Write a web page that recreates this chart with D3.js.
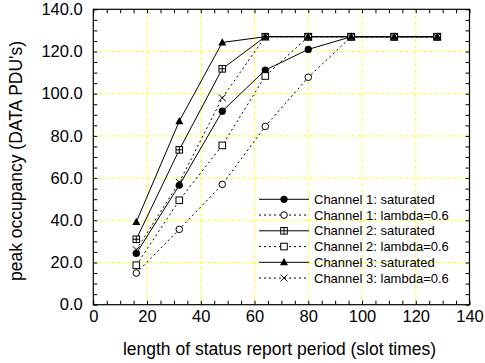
<!DOCTYPE html>
<html><head><meta charset="utf-8">
<script src="https://cdn.jsdelivr.net/npm/d3@7"></script>
<style>
body{margin:0;background:#fff;}
text{font-family:"Liberation Sans",Arial,sans-serif;fill:#000;}
</style></head>
<body><svg id="c" width="485" height="363"></svg>
<script>
const xValues = [16, 32, 48, 64, 80, 96, 112, 128];
const ch1Saturated = [24.3, 56.6, 91.7, 111.2, 121.0, 127, 127, 127];
const ch1Lambda    = [15.0, 35.7, 57.0, 84.5, 107.8, 127, 127, 127];
const ch2Saturated = [31.0, 73.4, 111.8, 127, 127, 127, 127, 127];
const ch2Lambda    = [18.7, 49.5, 75.5, 108.4, 127, 127, 127, 127];
const ch3Saturated = [39.2, 87.0, 124.3, 127, 127, 127, 127, 127];
const ch3Lambda    = [26.0, 58.0, 98.0, 127, 127, 127, 127, 127];
const seriesNames = ["Channel 1: saturated","Channel 1: lambda=0.6","Channel 2: saturated","Channel 2: lambda=0.6","Channel 3: saturated","Channel 3: lambda=0.6"];
const xTicks = [0,20,40,60,80,100,120,140];
const yTicks = [0,20,40,60,80,100,120,140];
const xTitle = "length of status report period (slot times)";
const yTitle = "peak occupancy (DATA PDU's)";

const series = [
  {name:seriesNames[0], vals:ch1Saturated, dash:null, marker:"fcircle"},
  {name:seriesNames[1], vals:ch1Lambda, dash:"2,3", marker:"ocircle"},
  {name:seriesNames[2], vals:ch2Saturated, dash:null, marker:"gsquare"},
  {name:seriesNames[3], vals:ch2Lambda, dash:"2,3", marker:"osquare"},
  {name:seriesNames[4], vals:ch3Saturated, dash:null, marker:"triangle"},
  {name:seriesNames[5], vals:ch3Lambda, dash:"2,3", marker:"cross"}
];

const svg = d3.select("#c");
const L=93.3, R=469.5, T=9.3, B=304.7;
const x = d3.scaleLinear().domain([0,140]).range([L,R]);
const y = d3.scaleLinear().domain([0,140]).range([B,T]);

// grid
const g = svg.append("g");
g.selectAll(".gx").data(xTicks.filter(d=>d>0&&d<140)).enter().append("line")
  .attr("x1",d=>x(d)).attr("x2",d=>x(d)).attr("y1",T).attr("y2",B)
  .attr("stroke","#ffff00").attr("stroke-width",1).attr("stroke-dasharray","3,3");
g.selectAll(".gy").data(yTicks.filter(d=>d>0&&d<140)).enter().append("line")
  .attr("y1",d=>y(d)).attr("y2",d=>y(d)).attr("x1",L).attr("x2",R)
  .attr("stroke","#ffff00").attr("stroke-width",1).attr("stroke-dasharray","3,3");

// axes with inner ticks
const minor = d3.range(0,141,5);
function tickAxis(axisFn, scale, transform){
  const a = svg.append("g").attr("transform",transform)
    .call(axisFn(scale).tickValues(minor).tickSize(4).tickFormat(""));
  a.select(".domain").remove();
  a.selectAll("line").attr("stroke","#000");
}
tickAxis(d3.axisTop, x, `translate(0,${B})`);
tickAxis(d3.axisBottom, x, `translate(0,${T})`);
tickAxis(d3.axisRight, y, `translate(${L},0)`);
tickAxis(d3.axisLeft, y, `translate(${R},0)`);

// labels
const xl = svg.append("g").attr("transform",`translate(0,${B})`)
  .call(d3.axisBottom(x).tickValues(xTicks).tickSize(0).tickPadding(6).tickFormat(d3.format("d")));
xl.select(".domain").remove();
xl.selectAll("text").attr("font-size",16.5).attr("font-family","Liberation Sans, Arial, sans-serif");
const yl = svg.append("g").attr("transform",`translate(${L},0)`)
  .call(d3.axisLeft(y).tickValues(yTicks).tickSize(0).tickPadding(10.6).tickFormat(d3.format(".1f")));
yl.select(".domain").remove();
yl.selectAll("text").attr("font-size",16.5).attr("font-family","Liberation Sans, Arial, sans-serif");

svg.append("rect").attr("x",L).attr("y",T).attr("width",R-L).attr("height",B-T)
  .attr("fill","none").attr("stroke","#000").attr("stroke-width",1.2);

svg.append("text").attr("x",279.5).attr("y",355).attr("text-anchor","middle")
  .attr("font-size",17.5).text(xTitle);
svg.append("text").attr("transform","translate(22,161) rotate(-90)").attr("text-anchor","middle")
  .attr("font-size",17.5).text(yTitle);

function drawMarker(sel, type, cx, cy){
  const m = sel.append("g").attr("transform",`translate(${cx},${cy})`);
  if(type==="fcircle") m.append("circle").attr("r",3.6).attr("fill","#000");
  else if(type==="ocircle") m.append("circle").attr("r",3.3).attr("fill","#fff").attr("stroke","#000");
  else if(type==="osquare") m.append("rect").attr("x",-3.3).attr("y",-3.3).attr("width",6.6).attr("height",6.6).attr("fill","#fff").attr("stroke","#000");
  else if(type==="gsquare"){
    m.append("rect").attr("x",-3.3).attr("y",-3.3).attr("width",6.6).attr("height",6.6).attr("fill","#fff").attr("stroke","#000");
    m.append("path").attr("d","M-3.3,0H3.3M0,-3.3V3.3").attr("stroke","#000");
  }
  else if(type==="triangle") m.append("path").attr("d","M0,-4.2L4,3L-4,3Z").attr("fill","#000");
  else if(type==="cross") m.append("path").attr("d","M-3.5,-3.5L3.5,3.5M-3.5,3.5L3.5,-3.5").attr("stroke","#000");
}

const line = d3.line().x(d=>x(d[0])).y(d=>y(d[1]));
series.forEach(s=>{
  const pts = xValues.map((xv,i)=>[xv,s.vals[i]]);
  svg.append("path").attr("d",line(pts)).attr("fill","none").attr("stroke","#000")
    .attr("stroke-width",1).attr("stroke-dasharray",s.dash);
});
series.forEach(s=>{
  const pts = xValues.map((xv,i)=>[xv,s.vals[i]]);
  pts.forEach(p=>drawMarker(svg,s.marker,x(p[0]),y(p[1])));
});

// legend
const legY0 = 199.3, legDy = 15.75;
series.forEach((s,i)=>{
  const yy = legY0 + i*legDy;
  svg.append("line").attr("x1",259).attr("x2",309).attr("y1",yy).attr("y2",yy)
    .attr("stroke","#000").attr("stroke-dasharray",s.dash);
  drawMarker(svg,s.marker,284,yy);
  svg.append("text").attr("x",314).attr("y",yy+4.6).attr("font-size",13).text(s.name);
});
</script></body></html>
